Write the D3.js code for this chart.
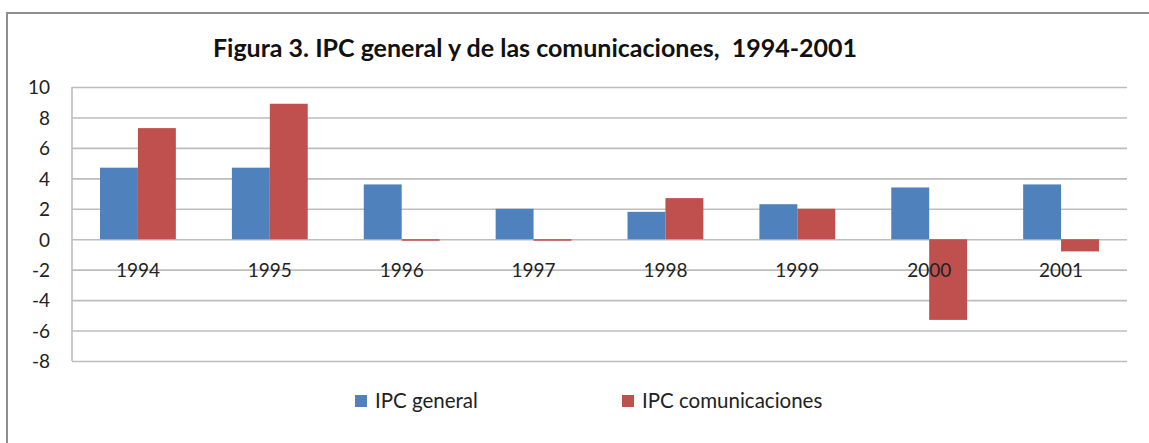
<!DOCTYPE html>
<html>
<head>
<meta charset="utf-8">
<script src="https://cdn.jsdelivr.net/npm/d3@7"></script>
<style>
  html, body { margin: 0; padding: 0; background: #fff; }
  svg { display: block; font-family: "Lato", "Liberation Sans", sans-serif; }
</style>
</head>
<body>
<svg id="chart" width="1149" height="443"></svg>
<script>
const categories = ["1994", "1995", "1996", "1997", "1998", "1999", "2000", "2001"];
const seriesNames = ["IPC general", "IPC comunicaciones"];
const ipcGeneral = [4.7, 4.7, 3.6, 2.0, 1.8, 2.3, 3.4, 3.6];
const ipcComunicaciones = [7.3, 8.9, -0.1, -0.1, 2.7, 2.0, -5.3, -0.8];
const yTicks = [-8, -6, -4, -2, 0, 2, 4, 6, 8, 10];
const yTickLabels = ["-8", "-6", "-4", "-2", "0", "2", "4", "6", "8", "10"];
const colors = ["#4F81BD", "#C0504D"];
const title = "Figura 3. IPC general y de las comunicaciones,  1994-2001";

const svg = d3.select("#chart");
const W = 1149, H = 443;
const plot = { left: 72, right: 1127, top: 87, bottom: 361 };

// outer frame (top and left edges visible)
svg.append("path")
  .attr("d", `M7,${H} L7,13 L${W},13`)
  .attr("fill", "none").attr("stroke", "#8e8e8e").attr("stroke-width", 2);

// title
svg.append("text")
  .attr("x", 535).attr("y", 57)
  .attr("text-anchor", "middle")
  .attr("font-weight", "bold")
  .attr("font-size", 25)
  .attr("fill", "#111")
  .style("white-space", "pre")
  .text(title);

const y = d3.scaleLinear().domain([-8, 10]).range([plot.bottom, plot.top]);
const x0 = d3.scaleBand().domain(categories).range([plot.left, plot.right])
  .paddingInner(0.425).paddingOuter(0.2125);
const x1 = d3.scaleBand().domain(seriesNames).range([0, x0.bandwidth()]);

// gridlines
const grid = svg.append("g")
  .attr("transform", `translate(${plot.left},0)`)
  .call(d3.axisLeft(y).tickValues(yTicks).tickSize(-(plot.right - plot.left)).tickFormat(""));
grid.select(".domain").remove();
grid.selectAll(".tick line").attr("stroke", "#bdbdbd").attr("stroke-width", 1.6);

// vertical axis line
svg.append("line")
  .attr("x1", plot.left).attr("x2", plot.left)
  .attr("y1", plot.top).attr("y2", plot.bottom)
  .attr("stroke", "#bdbdbd").attr("stroke-width", 1.6);

// y tick labels
const yAxis = svg.append("g")
  .attr("transform", `translate(50,0)`)
  .call(d3.axisLeft(y).tickValues(yTicks).tickSize(0).tickPadding(0)
    .tickFormat((d, i) => yTickLabels[i]));
yAxis.select(".domain").remove();
yAxis.selectAll("text")
  .attr("font-family", "Lato, 'Liberation Sans', sans-serif")
  .attr("font-size", 19).attr("fill", "#222").attr("dy", "0.36em");

// bars
const data = categories.map((c, i) => ({ cat: c, vals: [ipcGeneral[i], ipcComunicaciones[i]] }));
const groups = svg.append("g").selectAll("g").data(data).join("g")
  .attr("transform", d => `translate(${x0(d.cat)},0)`);
groups.selectAll("rect").data(d => d.vals.map((v, j) => ({ v, s: seriesNames[j], j })))
  .join("rect")
  .attr("x", d => x1(d.s))
  .attr("width", x1.bandwidth())
  .attr("y", d => y(Math.max(0, d.v)))
  .attr("height", d => Math.abs(y(d.v) - y(0)))
  .attr("fill", d => colors[d.j]);

// category labels
const xAxis = svg.append("g")
  .attr("transform", `translate(0,${y(0)})`)
  .call(d3.axisBottom(x0).tickSize(0).tickPadding(0));
xAxis.select(".domain").remove();
xAxis.selectAll("text")
  .attr("font-family", "Lato, 'Liberation Sans', sans-serif")
  .attr("font-size", 19).attr("fill", "#222")
  .attr("dy", null).attr("y", 38);

// legend
const legendX = [355, 622];
const leg = svg.append("g").selectAll("g").data(seriesNames).join("g")
  .attr("transform", (d, i) => `translate(${legendX[i]},395)`);
leg.append("rect").attr("width", 12).attr("height", 12).attr("fill", (d, i) => colors[i]);
leg.append("text").attr("x", 20).attr("y", 13)
  .attr("font-size", 20.5).attr("fill", "#222").text(d => d);
</script>
</body>
</html>
